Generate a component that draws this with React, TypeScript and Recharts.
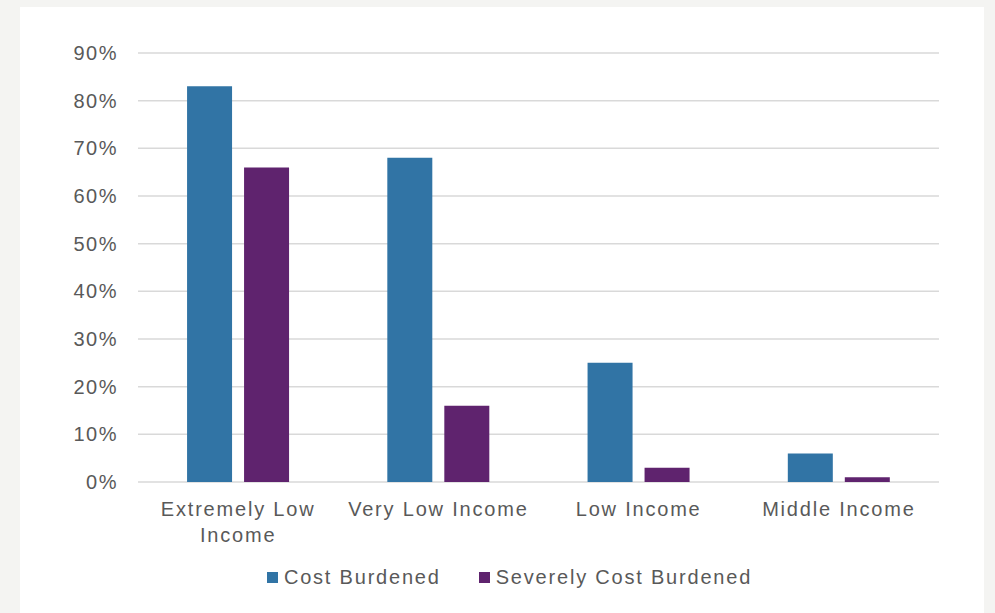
import { BarChart, Bar, XAxis, YAxis, CartesianGrid, Legend } from "recharts"

const CATEGORIES = ["Extremely Low Income", "Very Low Income", "Low Income", "Middle Income"]
const COST_BURDENED = [83, 68, 25, 6]
const SEVERELY_BURDENED = [66, 16, 3, 1]
const Y_TICKS = [0, 10, 20, 30, 40, 50, 60, 70, 80, 90]

const SERIES = [
  { key: "cost", label: "Cost Burdened", color: "#3174a5" },
  { key: "severe", label: "Severely Cost Burdened", color: "#5f236e" },
] as const

const data = CATEGORIES.map((name, i) => ({
  name,
  cost: COST_BURDENED[i],
  severe: SEVERELY_BURDENED[i],
}))

const FONT = "'Liberation Sans', Arial, sans-serif"
const TEXT_COLOR = "#595959"

// simple greedy word wrap by character count
function wrap(label: string, max = 15) {
  const lines: string[] = []
  let cur = ""
  for (const w of label.split(" ")) {
    const next = cur ? `${cur} ${w}` : w
    if (next.length > max && cur) {
      lines.push(cur)
      cur = w
    } else cur = next
  }
  if (cur) lines.push(cur)
  return lines
}

function CategoryTick({ x, y, payload }: { x?: number; y?: number; payload?: { value: string } }) {
  const lines = wrap(payload?.value ?? "")
  return (
    <text
      x={x}
      y={(y ?? 0) + 26}
      textAnchor="middle"
      style={{ fontFamily: FONT, fontSize: 20, letterSpacing: 1.8, fill: TEXT_COLOR }}
    >
      {lines.map((l, i) => (
        <tspan key={i} x={x} dy={i ? 26 : 0}>{l}</tspan>
      ))}
    </text>
  )
}

function LegendContent() {
  return (
    <div style={{ display: "flex", justifyContent: "center", alignItems: "center", height: 30, paddingLeft: 60, fontFamily: FONT, fontSize: 20, letterSpacing: 1.8, color: TEXT_COLOR }}>
      {SERIES.map((s, i) => (
        <div key={s.key} style={{ display: "flex", alignItems: "center", marginLeft: i ? 38 : 0 }}>
          <span style={{ display: "inline-block", width: 11, height: 11, background: s.color, marginRight: 6 }} />
          <span>{s.label}</span>
        </div>
      ))}
    </div>
  )
}

export default function App() {
  return (
    <div style={{ position: "absolute", left: 0, top: 0, width: 995, height: 613, background: "#f4f4f2", overflow: "hidden" }}>
      <div style={{ position: "absolute", left: 20, top: 7, width: 964, height: 606, background: "#ffffff" }}>
        <BarChart
          width={964}
          height={606}
          data={data}
          margin={{ top: 46, right: 45, left: 0, bottom: 21 }}
          barCategoryGap="24.5%"
          barGap={12}
        >
          <CartesianGrid vertical={false} stroke="#d9d9d9" strokeWidth={1.5} />
          <XAxis
            dataKey="name"
            axisLine={false}
            tickLine={false}
            interval={0}
            height={80}
            tick={<CategoryTick />}
          />
          <YAxis
            domain={[0, 90]}
            ticks={Y_TICKS}
            axisLine={false}
            tickLine={false}
            width={118}
            tickMargin={14}
            tickFormatter={(v) => `${v}%`}
            tick={{ fontFamily: FONT, fontSize: 20, letterSpacing: 1.5, fill: TEXT_COLOR }}
          />
          <Legend verticalAlign="bottom" height={30} content={<LegendContent />} />
          {SERIES.map((s) => (
            <Bar key={s.key} dataKey={s.key} name={s.label} fill={s.color} isAnimationActive={false} />
          ))}
        </BarChart>
      </div>
    </div>
  )
}
